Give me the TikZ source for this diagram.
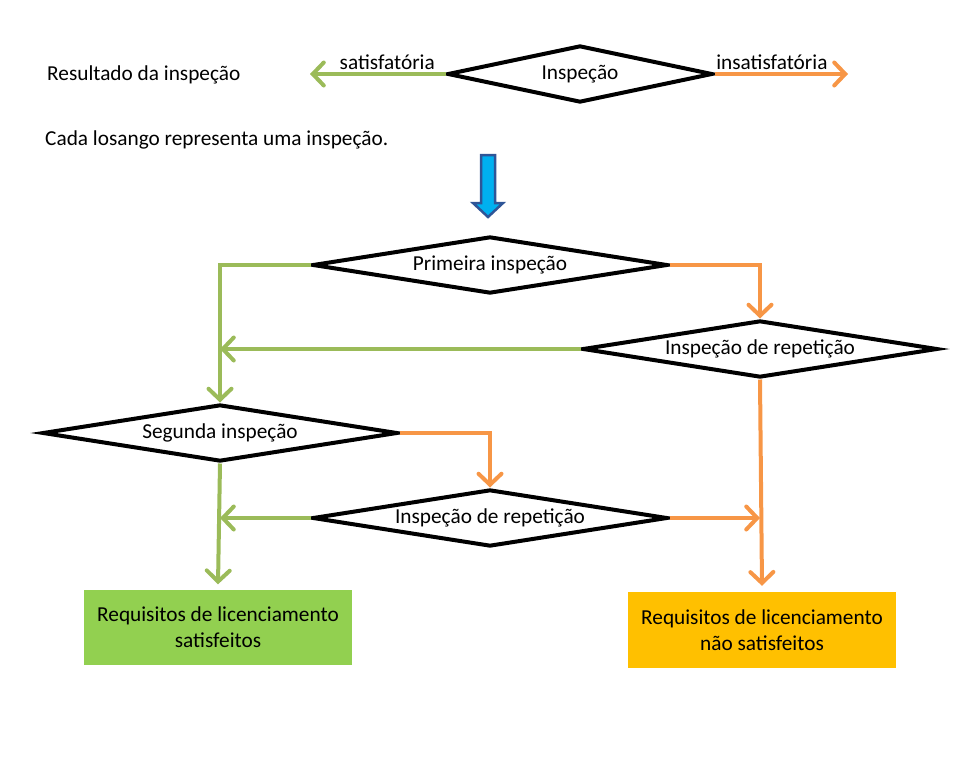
\documentclass[tikz,border=0pt]{standalone}
\usepackage{fontspec}
\setmainfont{Carlito}
\usetikzlibrary{positioning,calc,shapes.geometric,arrows.meta}

\definecolor{okgreen}{RGB}{155,187,89}
\definecolor{failorange}{RGB}{247,150,70}
\definecolor{boxgreen}{RGB}{146,208,80}
\definecolor{boxorange}{RGB}{255,192,0}
\definecolor{downcyan}{RGB}{0,176,240}
\definecolor{downblue}{RGB}{47,85,151}

\tikzset{
  check/.style={draw=black, line width=4pt, diamond, aspect=6,
    inner sep=0pt, minimum width=355pt, minimum height=57pt,
    font=\fontsize{21.3}{25}\selectfont},
  pass/.style={draw=okgreen, line width=4pt,
    -{Straight Barb[length=11pt,width=23pt,line cap=round]}},
  fail/.style={draw=failorange, line width=4pt,
    -{Straight Barb[length=11pt,width=23pt,line cap=round]}},
  result/.style={minimum width=268pt, minimum height=75pt,
    inner sep=0pt, align=center, text=black,
    font=\fontsize{21.3}{26}\selectfont},
  caption/.style={anchor=west, inner sep=0pt, font=\fontsize{21.3}{25}\selectfont},
}

\begin{document}
\begin{tikzpicture}[x=1pt, y=-1pt]
  \useasboundingbox (0,0) rectangle (967,758);

        %legend
        \node[caption] (res) at (47,75) {Resultado da inspeção};
        \node[check, minimum width=265pt] (leg) at (580,74) {Inspeção};
        \coordinate (legok) at (310,74);
        \coordinate (legfail) at (848,74);
        \draw[pass] (leg.west) -- node[pos=0.43, above, inner sep=2pt, font=\fontsize{21.3}{25}\selectfont] {satisfatória} (legok);
        \draw[fail] (leg.east) -- node[pos=0.43, above, inner sep=2pt, font=\fontsize{21.3}{25}\selectfont] {insatisfatória} (legfail);

        \node[caption] (cap) at (45,140) {Cada losango representa uma inspeção.};

        %start arrow
        \draw[downblue, fill=downcyan, line width=2.5pt, line join=miter]
          (481,155) -- (495,155) -- (495,203) -- (503,203) -- (488,217)
          -- (473,203) -- (481,203) -- cycle;

        %inspections
        \node[check] (first) at (490,265) {Primeira inspeção};
        \node[check] (rep1) at (760,349) {Inspeção de repetição};
        \node[check] (second) at (220,433) {Segunda inspeção};
        \node[check] (rep2) at (490,518) {Inspeção de repetição};

        %results
        \node[result, fill=boxgreen] (ok) at (218,627) {Requisitos de licenciamento\\satisfeitos};
        \node[result, fill=boxorange, minimum height=76pt] (nok) at (762,630) {Requisitos de licenciamento\\não satisfeitos};

        %links
        \draw[pass] (first.west) -| (second.north);
        \draw[fail] (first.east) -| (rep1.north);
        \draw[pass] (rep1.west) -- (rep1.west -| second.north);
        \draw[fail] (rep1.south) -- ([yshift=6pt]nok.north);
        \draw[pass] (second.south) -- ([yshift=5pt]ok.north);
        \draw[fail] (second.east) -| (rep2.north);
        \draw[pass] (rep2.west) -- (rep2.west -| second.south);
        \draw[fail] (rep2.east) -- (rep2.east -| rep1.south);

\end{tikzpicture}
\end{document}
